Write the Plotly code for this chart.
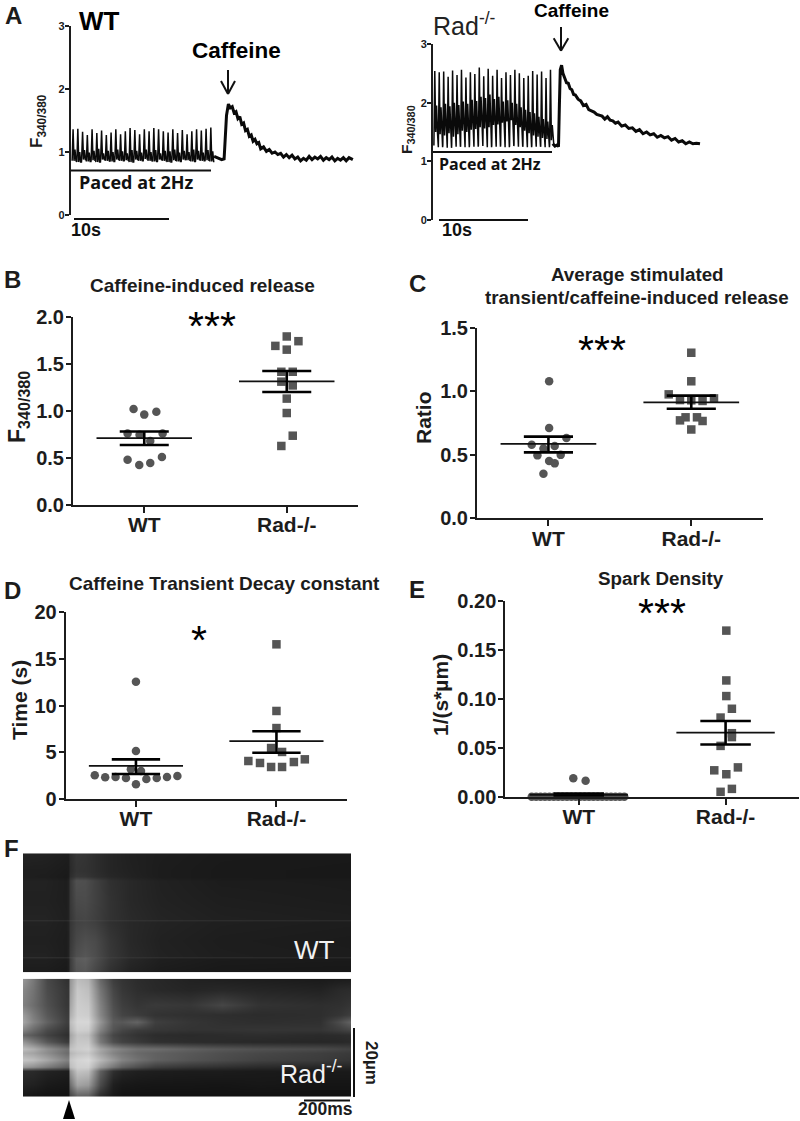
import plotly.graph_objects as go

W, H = 800, 1121
FONT = "Liberation Sans"
INK = "#1c1c1c"
DOT = "#555555"

# ---------- Panel A traces (hand read) ----------
wt_beat_t = [0.25,0.75,1.25,1.75,2.25,2.75,3.25,3.75,4.25,4.75,5.25,5.75,6.25,6.75,7.25,7.75,8.25,8.75,9.25,9.75,10.25,10.75,11.25,11.75,12.25,12.75,13.25,13.75,14.25,14.75]
wt_peak = [1.36,1.37,1.32,1.27,1.36,1.30,1.34,1.27,1.31,1.36,1.28,1.33,1.38,1.35,1.28,1.36,1.33,1.38,1.36,1.33,1.31,1.36,1.30,1.35,1.28,1.33,1.36,1.34,1.37,1.39]
wt_post = [1.04,1.00,1.03,0.99,1.02,1.05,0.98,1.02,1.00,1.04,1.01,0.98,1.03,1.02,0.99,1.04,1.00,1.03,0.98,1.02,1.01,1.04,0.99,1.02,1.00,1.04,1.02,0.99,1.03,1.01]
wt_trough = [0.86,0.84,0.88,0.85,0.87,0.84,0.88,0.86,0.85,0.88,0.86,0.87,0.84,0.88,0.86,0.89,0.86,0.85,0.88,0.86,0.84,0.87,0.85,0.88,0.87,0.85,0.88,0.86,0.87,0.85]
wt_tail_t = [15.1,15.5,15.9,16.15,16.25,16.4,16.6,16.8,17.0,17.2,17.4,17.6,17.8,18.0,18.2,18.4,18.6,18.8,19.0,19.2,19.4,19.6,19.8,20.0,20.3,20.6,20.9,21.2,21.5,21.8,22.1,22.4,22.7,23.0,23.3,23.6,23.9,24.2,24.5,24.8,25.1,25.4,25.7,26.0,26.3,26.6,26.9,27.2,27.5,27.8,28.1,28.4,28.7,29.0,29.3,29.7]
wt_tail_f = [0.93,0.90,0.88,0.89,1.25,1.58,1.76,1.70,1.72,1.62,1.64,1.53,1.56,1.44,1.46,1.34,1.36,1.25,1.27,1.17,1.20,1.13,1.15,1.05,1.08,1.01,1.04,0.98,1.00,0.96,0.98,0.92,0.96,0.91,0.95,0.89,0.92,0.86,0.90,0.87,0.93,0.88,0.92,0.89,0.93,0.87,0.91,0.88,0.92,0.86,0.90,0.87,0.91,0.86,0.91,0.88]

rad_beat_t = [0.2,0.7,1.2,1.7,2.2,2.7,3.2,3.7,4.2,4.7,5.2,5.7,6.2,6.7,7.2,7.7,8.2,8.7,9.2,9.7,10.2,10.7,11.2,11.7,12.2,12.7,13.2]
rad_peak = [2.54,2.52,2.53,2.44,2.55,2.47,2.56,2.43,2.52,2.49,2.60,2.45,2.58,2.46,2.56,2.42,2.52,2.47,2.56,2.50,2.42,2.46,2.54,2.48,2.53,2.42,2.56]
rad_post = [1.95,1.92,1.98,1.94,2.00,1.96,2.02,1.98,2.05,2.03,2.10,2.08,2.14,2.06,2.10,2.02,2.04,2.00,1.98,1.92,1.88,1.84,1.82,1.76,1.72,1.68,1.62]
rad_mid = [1.50,1.46,1.44,1.48,1.42,1.46,1.52,1.50,1.54,1.55,1.58,1.56,1.58,1.62,1.63,1.66,1.68,1.70,1.62,1.58,1.52,1.48,1.44,1.42,1.40,1.38,1.36]
rad_trough = [1.27,1.24,1.27,1.23,1.28,1.25,1.26,1.24,1.28,1.25,1.27,1.26,1.24,1.27,1.25,1.28,1.24,1.26,1.28,1.25,1.26,1.24,1.27,1.25,1.26,1.24,1.27]
rad_tail_t = [13.45,13.7,13.95,14.1,14.2,14.3,14.45,14.6,14.8,15.0,15.2,15.4,15.6,15.8,16.0,16.3,16.6,16.9,17.2,17.5,17.8,18.1,18.4,18.7,19.0,19.3,19.6,19.9,20.2,20.5,20.8,21.2,21.6,22.0,22.4,22.8,23.2,23.6,24.0,24.4,24.8,25.2,25.6,26.0,26.4,26.8,27.2,27.6,28.0,28.4,28.8,29.2,29.6,30.0]
rad_tail_f = [1.30,1.26,1.28,1.25,1.95,2.56,2.64,2.50,2.42,2.34,2.33,2.24,2.22,2.14,2.13,2.06,2.03,1.95,1.97,1.88,1.86,1.84,1.80,1.78,1.77,1.72,1.76,1.70,1.69,1.65,1.67,1.60,1.62,1.56,1.57,1.51,1.54,1.47,1.50,1.45,1.47,1.41,1.44,1.40,1.42,1.36,1.39,1.33,1.35,1.30,1.33,1.30,1.31,1.30]

# ---------- Panel B ----------
b_wt_x = [-0.075,0.0,0.085,-0.117,-0.033,0.129,0.042,0.124,-0.117,-0.035,0.042]
b_wt_y = [1.02,0.96,0.99,0.76,0.745,0.76,0.68,0.51,0.48,0.425,0.445]
b_rad_x = [0.0,0.082,-0.08,0.0,-0.038,0.042,-0.038,0.042,0.0,0.0,0.042,-0.038]
b_rad_y = [1.79,1.74,1.69,1.65,1.415,1.415,1.31,1.27,1.13,0.977,0.736,0.627]
b_mean = [0.71,1.313]
b_upper = [0.78,1.423]
b_lower = [0.637,1.20]

# ---------- Panel C ----------
c_wt_x = [0.005,0.005,0.126,-0.117,-0.035,0.044,-0.077,0.086,0.005,0.044,-0.035]
c_wt_y = [1.08,0.712,0.633,0.58,0.55,0.57,0.496,0.50,0.452,0.433,0.352]
c_rad_x = [0.0,0.0,-0.158,-0.079,0.0,0.079,0.159,-0.04,0.04,-0.079,0.079,0.0]
c_rad_y = [1.305,1.08,0.977,0.932,0.93,0.925,0.945,0.796,0.796,0.772,0.767,0.70]
c_mean = [0.586,0.914]
c_upper = [0.644,0.967]
c_lower = [0.52,0.864]

# ---------- Panel D ----------
d_wt_x = [0.0,0.0,-0.036,0.036,-0.293,-0.219,-0.145,-0.071,0.0,0.074,0.148,0.221,0.295]
d_wt_y = [12.57,5.14,3.2,3.0,2.54,2.32,2.36,2.25,1.57,2.14,2.25,2.36,2.46]
d_rad_x = [0.0,0.0,0.0,-0.038,0.04,-0.2,-0.117,-0.038,0.04,0.124,0.202]
d_rad_y = [16.57,9.43,7.6,5.46,5.04,4.07,3.86,3.43,3.43,3.96,4.25]
d_mean = [3.54,6.2]
d_upper = [4.25,7.25]
d_lower = [2.68,4.96]

# ---------- Panel E ----------
e_wt_x = [-0.037,0.047,-0.32,-0.29,-0.26,-0.23,-0.20,-0.17,-0.14,-0.11,-0.08,-0.05,-0.02,0.01,0.04,0.07,0.10,0.13,0.16,0.19,0.22,0.25,0.28,0.31]
e_wt_y = [0.019,0.0164,0,0,0,0,0,0,0,0,0,0,0,0,0,0,0,0,0,0,0,0,0,0]
e_rad_x = [0.005,0.005,0.005,0.043,-0.034,0.043,0.043,-0.034,0.084,-0.077,0.005,0.043,-0.034]
e_rad_y = [0.17,0.119,0.103,0.09,0.081,0.065,0.061,0.052,0.03,0.027,0.023,0.008,0.005]
e_mean = [0.002,0.0655]
e_upper = [0.0033,0.0775]
e_lower = [0.0006,0.0535]

group_labels = ["WT", "Rad-/-"]

# ---------- Panel F line-scan images (grey levels read by eye) ----------
f_wt_x = [23,45,66,68,70,76,85,95,110,130,160,220,351]
f_wt_y = [853,870,876,880,900,918,919.5,920.5,921.5,940,955,956.5,957.5,958.5,972]
f_wt_z = [
 [36,34,30,30,44,54,52,45,37,32,29,26,25],
 [30,30,27,28,42,52,50,45,37,33,28,25,24],
 [30,29,26,28,45,56,54,47,39,34,28,25,24],
 [34,34,30,34,56,80,78,65,48,40,33,28,27],
 [33,33,30,34,56,74,75,65,50,40,34,30,28],
 [35,35,31,34,54,68,70,63,50,42,36,32,30],
 [35,35,31,34,54,68,70,63,50,42,36,32,30],
 [52,52,48,50,66,78,78,72,60,55,52,50,47],
 [34,34,30,34,54,66,68,63,48,40,35,31,29],
 [32,32,29,33,56,72,79,74,54,40,33,29,27],
 [34,34,29,34,60,79,86,77,56,42,34,30,28],
 [34,34,29,34,60,79,86,77,56,42,34,30,28],
 [52,52,48,52,72,92,95,84,64,55,50,48,46],
 [32,32,28,32,60,90,95,79,56,40,31,27,26],
 [28,28,25,30,60,83,86,70,48,34,27,24,23],
]
f_rad_x = [23,33,47,66,68,70,77,88,100,113,122,137,155,190,222,260,320,340,351]
f_rad_y = [980,990,1005,1015,1022,1030,1035,1042,1049,1053,1060,1067,1071,1085,1096]
f_rad_z = [
 [150,120,72,50,50,150,190,180,105,62,52,44,40,34,32,30,27,29,30],
 [135,115,75,54,54,155,200,190,118,70,55,46,41,37,40,37,34,42,44],
 [128,110,80,55,55,165,205,200,130,78,62,53,58,55,70,51,46,48,53],
 [155,124,88,60,60,175,208,205,136,84,68,60,51,48,46,44,46,53,62],
 [165,132,98,64,64,190,215,215,150,92,88,100,63,53,48,46,48,78,100],
 [132,106,75,55,55,180,208,205,132,84,70,60,55,51,51,53,53,62,70],
 [102,88,66,48,48,165,195,190,114,70,60,51,44,42,44,46,42,44,46],
 [150,124,88,60,60,175,200,200,122,79,66,57,48,44,42,40,39,40,42],
 [190,176,145,115,115,195,205,210,168,140,128,114,110,97,88,81,75,69,66],
 [172,163,141,110,110,182,195,200,163,132,119,105,97,88,79,72,63,60,58],
 [198,190,167,132,132,200,212,218,185,154,132,114,97,84,75,66,60,55,53],
 [155,145,123,97,97,190,208,208,154,119,97,79,62,53,48,42,39,37,37],
 [44,42,35,31,31,150,195,190,97,48,37,32,30,28,28,26,26,26,26],
 [35,33,26,23,23,110,163,154,75,31,25,23,22,22,21,23,21,21,21],
 [25,21,19,18,19,70,100,97,44,25,19,18,18,18,18,18,18,18,18],
]


def px(x):
    return x / W


def py(y):
    return 1 - y / H


fig = go.Figure()
layout_axes = {}
counter = [0]
annotations = []
shapes = []


def add_axes(x0, x1, ytop, ybot, xrange, yrange, xvis=False, yvis=True, tickvals=None,
             ticktext=None, tsize=20, ticklen=5, lw=2):
    counter[0] += 1
    i = counter[0]
    suf = "" if i == 1 else str(i)
    tf = dict(family=FONT, size=tsize, color=INK, weight="bold")
    layout_axes["xaxis" + suf] = dict(
        domain=[px(x0), px(x1)], range=xrange, anchor="y" + suf, visible=xvis, showgrid=False,
        zeroline=False, showline=xvis, linecolor=INK, linewidth=lw, ticks="outside" if xvis else "",
        ticklen=ticklen + 1, tickwidth=lw, tickcolor=INK, tickvals=[1, 2] if xvis else None,
        ticktext=group_labels if xvis else None, automargin=False, ticklabelstandoff=-6,
        tickfont=dict(family=FONT, size=21, color=INK, weight="bold"),
    )
    layout_axes["yaxis" + suf] = dict(
        domain=[py(ybot), py(ytop)], range=yrange, anchor="x" + suf, visible=yvis, showgrid=False,
        zeroline=False, showline=yvis, linecolor=INK, linewidth=lw, ticks="outside" if yvis else "",
        ticklen=ticklen, tickwidth=lw, tickcolor=INK, tickvals=tickvals, ticktext=ticktext, tickfont=tf,
        automargin=False, ticklabelstandoff=-2,
    )
    return "x" + suf, "y" + suf


def label(x, y, text, size, bold=True, angle=0, anchor="center", color=INK, family=FONT):
    t = f"<b>{text}</b>" if bold else text
    annotations.append(dict(
        x=px(x), y=py(y), xref="paper", yref="paper", text=t, showarrow=False, textangle=angle,
        xanchor=anchor, yanchor="middle", font=dict(family=family, size=size, color=color),
        align="center",
    ))


def bar(x0, y0, x1, y1, width=2, color="#111111"):
    shapes.append(dict(type="line", xref="paper", yref="paper", x0=px(x0), y0=py(y0), x1=px(x1), y1=py(y1),
                       line=dict(color=color, width=width)))


def beat_series(beat_t, peak, upper, lower, trough):
    xs, ys = [], []
    for t, pk, up, lo, tr in zip(beat_t, peak, upper, lower, trough):
        xs += [t - 0.1, t, t + 0.1, t + 0.2, t + 0.3, t + 0.38]
        ys += [tr, pk, lo, up, lo, tr]
    return xs, ys


def dot_panel(x0, x1, ytop, ybot, ymax, tickvals, ticktext, wt_x, wt_y, rad_x, rad_y, mean, upper, lower, tsize=20):
    xa, ya = add_axes(x0, x1, ytop, ybot, [0.5, 2.5], [0, ymax], xvis=True, tickvals=tickvals,
                      ticktext=ticktext, tsize=tsize)
    for centre, dx, dy, sym in [(1, wt_x, wt_y, "circle"), (2, rad_x, rad_y, "square")]:
        fig.add_trace(go.Scatter(
            x=[centre + v for v in dx], y=dy, mode="markers", xaxis=xa, yaxis=ya, cliponaxis=False,
            marker=dict(color=DOT, size=8.5, symbol=sym), showlegend=False,
        ))
    for k, centre in enumerate([1, 2]):
        fig.add_trace(go.Scatter(
            x=[centre - 0.335, centre + 0.335], y=[mean[k], mean[k]], mode="lines", xaxis=xa, yaxis=ya,
            cliponaxis=False, line=dict(color="#111111", width=1.8), showlegend=False,
        ))
        for level in (upper[k], lower[k]):
            fig.add_trace(go.Scatter(
                x=[centre - 0.172, centre + 0.172], y=[level, level], mode="lines", xaxis=xa, yaxis=ya,
                cliponaxis=False, line=dict(color="#000000", width=2.6), showlegend=False,
            ))
        fig.add_trace(go.Scatter(
            x=[centre, centre], y=[lower[k], upper[k]], mode="lines", xaxis=xa, yaxis=ya,
            cliponaxis=False, line=dict(color="#000000", width=2.6), showlegend=False,
        ))


# ---- Panel A ----
xa, ya = add_axes(70.7, 362, 26, 215, [0, (362 - 70.7) / 9.5], [0, 3], tickvals=[0, 1, 2, 3],
                  ticktext=["0", "1", "2", "3"], tsize=11, ticklen=4)
xs, ys = beat_series(wt_beat_t, wt_peak, wt_post, wt_trough, wt_trough)
fig.add_trace(go.Scatter(x=xs, y=ys, mode="lines", xaxis=xa, yaxis=ya, showlegend=False,
                         line=dict(color="#0a0a0a", width=1.5)))
fig.add_trace(go.Scatter(x=wt_tail_t, y=wt_tail_f, mode="lines", xaxis=xa, yaxis=ya, showlegend=False,
                         line=dict(color="#0a0a0a", width=3)))
xa, ya = add_axes(433, 705, 44, 220, [0, (705 - 433) / 8.9], [0, 3], tickvals=[0, 1, 2, 3],
                  ticktext=["0", "1", "2", "3"], tsize=11, ticklen=4)
xs, ys = beat_series(rad_beat_t, rad_peak, rad_post, rad_mid, rad_trough)
fig.add_trace(go.Scatter(x=xs, y=ys, mode="lines", xaxis=xa, yaxis=ya, showlegend=False,
                         line=dict(color="#0a0a0a", width=1.5)))
fig.add_trace(go.Scatter(x=rad_tail_t, y=rad_tail_f, mode="lines", xaxis=xa, yaxis=ya, showlegend=False,
                         line=dict(color="#0a0a0a", width=3)))

# ---- Panels B-E ----
dot_panel(73, 358, 316.7, 505, 2.0, [0, 0.5, 1, 1.5, 2], ["0.0", "0.5", "1.0", "1.5", "2.0"],
          b_wt_x, b_wt_y, b_rad_x, b_rad_y, b_mean, b_upper, b_lower)
dot_panel(477, 762.7, 328, 518.3, 1.5, [0, 0.5, 1, 1.5], ["0.0", "0.5", "1.0", "1.5"],
          c_wt_x, c_wt_y, c_rad_x, c_rad_y, c_mean, c_upper, c_lower)
dot_panel(65.7, 346.7, 612.3, 799, 20, [0, 5, 10, 15, 20], ["0", "5", "10", "15", "20"],
          d_wt_x, d_wt_y, d_rad_x, d_rad_y, d_mean, d_upper, d_lower)
dot_panel(505.3, 799, 601.3, 796.7, 0.2, [0, 0.05, 0.1, 0.15, 0.2], ["0.00", "0.05", "0.10", "0.15", "0.20"],
          e_wt_x, e_wt_y, e_rad_x, e_rad_y, e_mean, e_upper, e_lower)

# ---- Panel F ----
GREYS = [[0, "#000000"], [1, "#ffffff"]]
xa, ya = add_axes(23, 351, 853.3, 972.3, [23, 351], [972.3, 853.3], yvis=False)
fig.add_trace(go.Heatmap(x=f_wt_x, y=f_wt_y, z=f_wt_z, colorscale=GREYS, zmin=0, zmax=255, zsmooth="best",
                         showscale=False, xaxis=xa, yaxis=ya, hoverinfo="skip"))
xa, ya = add_axes(23, 351, 978.7, 1096.7, [23, 351], [1096.7, 978.7], yvis=False)
fig.add_trace(go.Heatmap(x=f_rad_x, y=f_rad_y, z=f_rad_z, colorscale=GREYS, zmin=0, zmax=255, zsmooth="best",
                         showscale=False, xaxis=xa, yaxis=ya, hoverinfo="skip"))

# ---- Panel letters ----
label(3, 16, "A", 24, anchor="left")
label(2, 279, "B", 24, anchor="left")
label(407, 283, "C", 24, anchor="left")
label(2, 590, "D", 24, anchor="left")
label(407, 589, "E", 24, anchor="left")
label(2, 848, "F", 24, anchor="left")

# ---- Panel A texts and bars ----
label(77, 21, "WT", 26, anchor="left", color="#000000")
label(236, 50, "Caffeine", 22.5, color="#000000")
label(136, 182, "Paced at 2Hz", 18, color="#111111", family="Open Sans")
label(86, 230, "10s", 18, color="#111111")
label(38, 121, "F<sub>340/380</sub>", 17, angle=-90)
label(431, 24, "Rad<sup>-/-</sup>", 25, bold=False, anchor="left", color="#222222")
label(571, 10, "Caffeine", 19, color="#000000")
label(490, 164, "Paced at 2Hz", 16, color="#111111", family="Open Sans")
label(457, 230, "10s", 18, color="#111111")
label(407, 130, "F<sub>340/380</sub>", 15.5, angle=-90)
bar(70.7, 170.5, 211, 170.5)
bar(74, 219, 169, 219)
bar(433, 152, 552, 152)
bar(439, 220, 528, 220)
bar(228, 70, 228, 94)
bar(221, 81, 228, 94)
bar(235, 81, 228, 94)
bar(561, 27, 561, 51)
bar(553.7, 38.3, 561, 50.7)
bar(568.3, 38.3, 561, 50.7)

# ---- Panel titles, significance, axis titles ----
label(203, 285, "Caffeine-induced release", 19)
label(637, 274, "Average stimulated", 18.8)
label(637, 297, "transient/caffeine-induced release", 18.8)
label(224, 583, "Caffeine Transient Decay constant", 19)
label(661, 578, "Spark Density", 18.8)
label(212, 326, "***", 41, bold=False, color="#000000")
label(602, 350, "***", 41, bold=False, color="#000000")
label(199, 640, "*", 41, bold=False, color="#000000")
label(662, 613, "***", 41, bold=False, color="#000000")
label(18, 407, "F<sub>340/380</sub>", 23, angle=-90)
label(423, 418, "Ratio", 21, angle=-90)
label(19, 700, "Time (s)", 21, angle=-90)
label(440, 695, "1/(s*µm)", 21, angle=-90)

# ---- Panel F texts and bars ----
label(314, 950, "WT", 26, bold=False, color="#f2f2f2")
label(311, 1072, "Rad<sup>-/-</sup>", 25, bold=False, color="#f2f2f2")
label(372, 1063, "20µm", 17, angle=90)
label(325, 1109, "200ms", 17.5)
bar(354, 1028, 354, 1097)
bar(304, 1100.5, 350, 1100.5)
shapes.append(dict(type="path", xref="paper", yref="paper", fillcolor="#000000", line=dict(width=0),
                   path=f"M {px(63)} {py(1119)} L {px(69)} {py(1100)} L {px(75)} {py(1119)} Z"))

fig.update_layout(
    width=W, height=H, autosize=False, margin=dict(l=0, r=0, t=0, b=0, pad=0), paper_bgcolor="white",
    plot_bgcolor="rgba(0,0,0,0)", showlegend=False, annotations=annotations, shapes=shapes,
    font=dict(family=FONT), **layout_axes,
)
fig.write_html("out.html", config={"displayModeBar": False},
               post_script="document.body.style.margin='0';")
